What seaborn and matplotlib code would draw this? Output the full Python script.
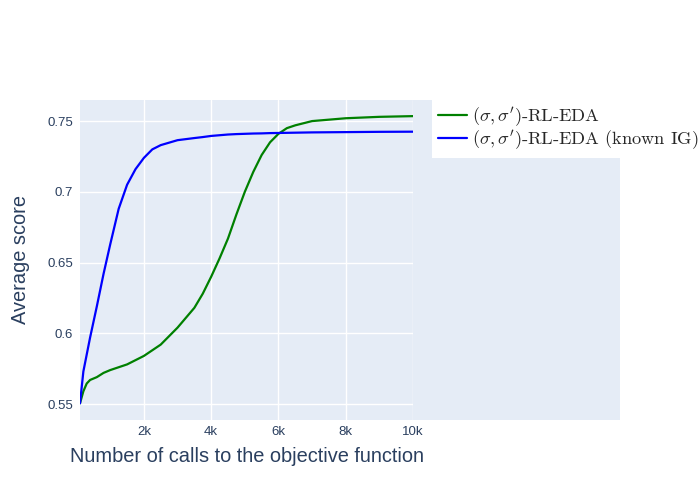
import numpy as np
import pandas as pd
import matplotlib.pyplot as plt
import matplotlib.patches as mpatches
import seaborn as sns

# calls to the objective function (x) and average score of each variant
calls = [100, 200, 300, 400, 600, 800, 1000, 1250, 1500, 1750, 2000, 2250, 2500,
         3000, 3500, 3750, 4000, 4250, 4500, 4750, 5000, 5250, 5500, 5750, 6000,
         6250, 6500, 7000, 8000, 9000, 10000]
score_rl_eda = [0.5505, 0.559, 0.5645, 0.567, 0.569, 0.572, 0.574, 0.576, 0.578, 0.581,
                0.584, 0.588, 0.592, 0.604, 0.618, 0.628, 0.640, 0.653, 0.667, 0.684,
                0.700, 0.714, 0.726, 0.735, 0.741, 0.745, 0.747, 0.750, 0.752, 0.753,
                0.7535]
score_known_ig = [0.5505, 0.573, 0.585, 0.597, 0.619, 0.642, 0.663, 0.688, 0.705, 0.716,
                  0.724, 0.730, 0.733, 0.7365, 0.738, 0.7387, 0.7395, 0.740, 0.7405, 0.7408,
                  0.741, 0.7412, 0.7413, 0.7415, 0.7416, 0.7417, 0.7418, 0.742, 0.7422,
                  0.7424, 0.7425]
series_names = [r"$(\sigma,\sigma')$-RL-EDA", r"$(\sigma,\sigma')$-RL-EDA (known IG)"]
series_colors = ["green", "blue"]

yticks = [0.55, 0.6, 0.65, 0.7, 0.75]
ytick_labels = ["0.55", "0.6", "0.65", "0.7", "0.75"]
xticks = [2000, 4000, 6000, 8000, 10000]
xtick_labels = ["2k", "4k", "6k", "8k", "10k"]

df = pd.concat([
    pd.DataFrame({"calls": calls, "score": score_rl_eda, "variant": series_names[0]}),
    pd.DataFrame({"calls": calls, "score": score_known_ig, "variant": series_names[1]}),
])

sns.set_theme(style="darkgrid")
plt.rcParams["font.family"] = ["Liberation Sans", "DejaVu Sans"]
plt.rcParams["mathtext.fontset"] = "cm"

txt = "#2a3f5f"
bg = "#e5ecf6"

fig = plt.figure(figsize=(7, 5), dpi=100)
fig.patch.set_facecolor("white")
# plot background wider than the data area (as in the source)
fig.patches.append(mpatches.Rectangle((80 / 700, 80 / 500), 540 / 700, 320 / 500,
                                      transform=fig.transFigure, facecolor=bg,
                                      edgecolor="none", zorder=-5))
ax = fig.add_axes([80 / 700, 80 / 500, 333 / 700, 320 / 500])
ax.set_facecolor(bg)

sns.lineplot(data=df, x="calls", y="score", hue="variant",
             palette=dict(zip(series_names, series_colors)),
             linewidth=1.6, ax=ax, legend=False)

ax.set_xlim(100, 10000)
ax.set_ylim(0.5387, 0.7649)
ax.set_xticks(xticks)
ax.set_xticklabels(xtick_labels)
ax.set_yticks(yticks)
ax.set_yticklabels(ytick_labels)
ax.grid(True, color="white", linewidth=1)
ax.tick_params(axis="both", length=0, labelsize=9.5, labelcolor=txt)
ax.tick_params(axis="y", pad=5)
ax.tick_params(axis="x", pad=4)
for s in ax.spines.values():
    s.set_visible(False)

ax.set_xlabel("Number of calls to the objective function", fontsize=14.4, color=txt)
ax.set_ylabel("Average score", fontsize=14.4, color=txt)
ax.xaxis.set_label_coords(0.5, -0.085)
ax.yaxis.set_label_coords(-0.15, 0.5)

handles = [plt.Line2D([], [], color=c, linewidth=1.6) for c in series_colors]
leg = fig.legend(handles, series_names, loc="upper left",
                 bbox_to_anchor=(432 / 700, 1 - 100 / 500),
                 frameon=True, fancybox=False, framealpha=1,
                 prop={"family": "cmr10", "size": 13.2},
                 handlelength=1.6, handletextpad=0.3, labelspacing=-0.05,
                 borderpad=0.3, borderaxespad=0)
leg.get_frame().set_facecolor("white")
leg.get_frame().set_edgecolor("white")
leg.get_frame().set_linewidth(0)

fig.savefig("out.png", dpi=100)
